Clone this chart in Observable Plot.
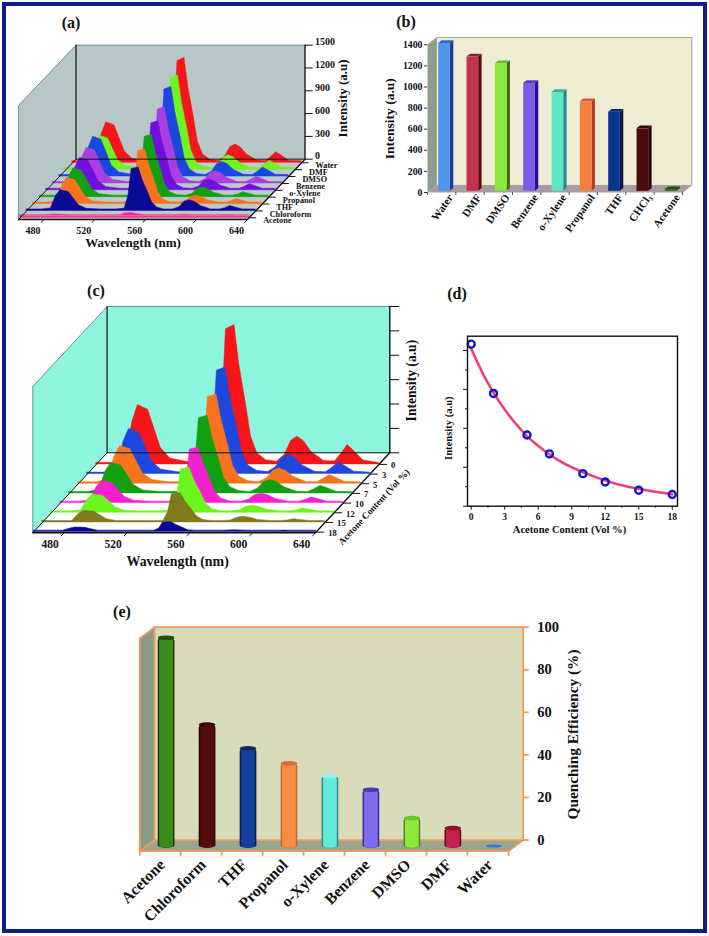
<!DOCTYPE html>
<html><head><meta charset="utf-8">
<script src="https://cdn.jsdelivr.net/npm/d3@7"></script>
<script src="https://cdn.jsdelivr.net/npm/@observablehq/plot@0.6"></script>
<style>
html,body{margin:0;padding:0;background:#fff}
#page{position:relative;width:709px;height:936px;overflow:hidden;font-family:"Liberation Serif",serif}
#border{position:absolute;left:2px;top:2px;width:697px;height:923px;border:4px solid #0f1c85}
.tag{position:absolute;font:bold 16px "Liberation Serif",serif;transform:translate(-50%,-50%);color:#111}
</style></head><body><div id="page"><div id="border"></div></div>
<script>
const FONT='"Liberation Serif",serif';
// wavelengths shared by the spectra of panels (a) and (c)
const wavelengths=[460,472,479,483,486.5,493,497,501,507,518,530,537,540,542.5,548,551,555.5,558.5,562.5,568,575,580,584,588,592,597,605,612,616,620,624,630,640];

// (a) solvents, back row first
const solventsA=["Water","DMF","DMSO","Benzene","o-Xylene","Propanol","THF","Chloroform","Acetone"];
const colorsA=["#f5151a","#6cf51e","#1a47e0","#a93fe0","#6f10dc","#12a012","#f7741c","#0a0a96","#f41fc0"];
const aWater=[20,20,64,385,535,492,321,150,54,21,28,69,483,1339,1380,994,580,276,110,41,24,84,205,241,205,108,29,21,77,140,98,28,20];
const aDMF=[20,20,54,322,447,411,268,125,45,20,25,62,434,1203,1240,893,521,248,99,37,20,66,161,189,161,85,23,20,65,118,83,24,20];
const aDMSO=[20,20,63,379,526,484,316,147,53,21,24,59,413,1145,1180,850,496,236,94,35,20,68,164,193,164,87,23,20,65,118,83,24,20];
const aBenzene=[20,20,56,338,470,432,282,132,47,20,20,50,351,974,1004,723,422,201,80,30,20,57,138,162,138,73,20,20,48,88,62,20,20];
const aXylene=[20,20,51,306,425,391,255,119,43,20,20,45,318,881,908,654,381,182,73,27,20,49,119,140,119,63,20,20,46,83,58,20,20];
const aPropanol=[20,20,46,274,380,350,228,106,38,20,20,41,287,795,820,590,344,164,66,25,20,44,108,127,108,57,20,20,36,66,46,20,20];
const aTHF=[20,20,41,248,345,317,207,97,35,20,20,36,252,697,719,518,302,144,58,22,20,39,94,110,94,50,20,20,36,66,46,20,20];
const aChloroform=[20,20,33,196,272,250,163,76,27,20,20,29,200,553,570,410,239,114,46,20,20,49,119,140,119,63,20,20,36,66,46,20,20];
const aAcetone=[34,34,34,38,42,40,36,34,34,34,34,34,40,60,62,50,40,34,34,34,34,34,38,40,38,34,34,34,34,36,35,34,34];
const seriesA=[aWater,aDMF,aDMSO,aBenzene,aXylene,aPropanol,aTHF,aChloroform,aAcetone];
const ticksWave=[480,520,560,600,640];
const ticksIntensityA=[0,300,600,900,1200,1500];

// (b)
const solventsB=["Water","DMF","DMSO","Benzene","o-Xylene","Propanol","THF","CHCl₃","Acetone"];
const valuesB=[1416,1289,1226,1039,953,864,766,608,32];
const faceB=["#4f95ea","#c4304f","#8be83c","#7c5ce8","#5ee6c8","#f5803e","#0c358f","#4a0b0b","#2f6b10"];
const sideB=["#1d3f95","#5c0a12","#3f6e10","#2a1095","#2a8a92","#a8401f","#061745","#260505","#163a05"];
const topB=["#2f6fc8","#8a1c30","#68b828","#5a3cc0","#3fb0a8","#d0602a","#092a70","#360808","#1f5008"];
const ticksB=[0,200,400,600,800,1000,1200,1400];

// (c)
const contentC=["0","3","5","7","10","12","15","18"];
const colorsC=["#f5151a","#1d48e0","#f7741c","#12a012","#f51fd0","#6cf51e","#7f7a1e","#0a0a96"];
const c0=[15,18,73,438,608,559,365,170,61,24,29,71,500,1385,1428,1028,600,286,114,43,28,99,241,284,241,128,34,30,109,198,139,40,15];
const c3=[15,15,55,332,461,424,277,129,46,18,22,55,383,1060,1093,787,459,219,87,33,20,69,168,198,168,89,24,18,66,120,84,24,15];
const c5=[15,15,46,278,386,355,232,108,39,15,18,46,321,889,916,660,385,183,73,27,16,55,133,157,133,71,19,15,49,89,62,18,15];
const c7=[15,15,37,224,311,286,187,87,31,15,16,40,279,772,796,573,334,159,64,24,15,48,116,137,116,62,16,15,43,79,55,16,15];
const c10=[15,15,27,162,225,207,135,63,23,15,15,28,198,550,567,408,238,113,45,17,15,34,82,96,82,43,15,15,32,58,41,15,15];
const c12=[15,15,23,135,188,173,113,53,19,15,15,23,161,447,461,332,194,92,37,15,15,25,61,72,61,32,15,15,24,44,31,15,15];
const c15=[15,15,15,86,120,110,72,34,15,15,15,15,105,291,300,216,126,60,24,15,15,20,49,58,49,26,15,15,19,34,24,15,15];
const c18=[15,15,15,35,48,44,29,15,15,15,15,15,36,99,102,73,43,20,15,15,15,15,17,20,17,15,15,15,15,16,15,15,15];
const seriesC=[c0,c3,c5,c7,c10,c12,c15,c18];
const ticksIntensityC=[0,250,500,750,1000,1250,1500];

// (d)
const acetoneX=[0,2,5,7,10,12,15,18];
const acetoneY=[1249,869,549,403,251,187,123,90];
const fitX=[0,1,2,3,4,5,6,7,8,9,10,12,14,16,18];
const fitY=[1215,1030,875,745,635,540,465,400,345,300,262,198,150,118,92];
const ticksDX=[0,3,6,9,12,15,18];
const minorDX=[1.5,4.5,7.5,10.5,13.5,16.5];
const ticksDY=[0,300,600,900,1200];
const minorDY=[150,450,750,1050];

// (e)
const solventsE=["Acetone","Chloroform","THF","Propanol","o-Xylene","Benzene","DMSO","DMF","Water"];
const valuesE=[98,57.2,46,39,33,26.6,13.3,8.6,0.3];
const midE=["#3d8a1c","#540c0c","#12409c","#f78c44","#64ead8","#7f6cec","#8fe83c","#c4204e","#3a78d8"];
const edgeE=["#153c05","#260404","#0a1f52","#c46a30","#2e8a92","#3a2aa0","#4a8a20","#600a20","#1c4aa0"];
const capE=["#1f4f0a","#380606","#0c2a6a","#d8702c","#9af0e8","#4a38b8","#6cc02c","#8a1030","#2a5ab8"];
const ticksE=[0,20,40,60,80,100];

const page=document.getElementById("page");
function panel({left,top,right,bottom,frame:[fl,ft,fr,fb],x,y,marks}){
  const svg=Plot.plot({width:right-left,height:bottom-top,marginLeft:fl-left,marginTop:ft-top,marginRight:right-fr,marginBottom:bottom-fb,
    x:{...x,axis:null},y:{...y,axis:null},marks,
    style:{position:"absolute",left:left+"px",top:top+"px",fontFamily:FONT,fontWeight:"bold",background:"transparent",overflow:"visible",color:"#111"}});
  page.appendChild(svg);
}
const poly=(pts,fill,stroke="none",strokeWidth=1)=>Plot.line(pts,{x:p=>p[0],y:p=>p[1],fill,stroke,strokeWidth,curve:"linear-closed"});
const edge=(pts,stroke,strokeWidth=1)=>Plot.line(pts,{x:p=>p[0],y:p=>p[1],stroke,strokeWidth});
function tag(text,x,y){const s=document.createElement("div");s.className="tag";s.textContent=text;s.style.left=x+"px";s.style.top=y+"px";page.appendChild(s);}

function ridge(series,colors,depths,px,py){
  return series.map((arr,i)=>{
    const rows=wavelengths.map((nm,j)=>({nm,v:arr[j]}));
    const d=depths[i];
    return Plot.area(rows,{x1:r=>px(r.nm,d),y1:r=>py(0,d),y2:r=>py(r.v,d),fill:colors[i],stroke:colors[i],strokeWidth:.5,curve:"linear"});
  });
}

/* ---------- (a) ---------- */
{
  const W=8.78, nmLo=460, nmHi=640, top=1500;
  const px=(nm,d)=>nm+d*5.15, py=(v,d)=>v+d*90.4;
  const depths=solventsA.map((_,i)=>8.25-i);
  const wall="#b7c6c6";
  panel({left:6,top:30,right:360,bottom:262,frame:[18,105,247,219],
    x:{domain:[nmLo,nmHi]},y:{domain:[0,top]},
    marks:[
      poly([[px(nmLo,W),py(0,W)],[px(nmHi,W),py(0,W)],[px(nmHi,W),py(top,W)],[px(nmLo,W),py(top,W)]],wall),
      poly([[px(nmLo,0),py(0,0)],[px(nmLo,W),py(0,W)],[px(nmLo,W),py(top,W)],[px(nmLo,0),py(top,0)]],wall),
      poly([[px(nmLo,0),py(0,0)],[px(nmHi,0),py(0,0)],[px(nmHi,W),py(0,W)],[px(nmLo,W),py(0,W)]],"#bccaca"),
      ...ridge(seriesA,colorsA,depths,px,py),
      edge([[px(nmLo,0.55),py(0,0.55)],[px(nmHi,0.55),py(0,0.55)]],"#f58a2a",1),
      edge([[px(nmLo,0),py(top,0)],[px(nmLo,W),py(top,W)],[px(nmHi,W),py(top,W)]],"#6f8a8a",1),
      edge([[px(nmLo,0),py(0,0)],[px(nmLo,0),py(top,0)]],"#7f9a9a",1),
      edge([[px(nmLo,W),py(top,W)],[px(nmLo,W),py(0,W)]],"#111",1.2),
      edge([[px(nmLo,0),py(0,0)],[px(nmLo,W),py(0,W)],[px(nmHi,W),py(0,W)]],"#111",1),
      edge([[px(nmLo,0),py(0,0)],[px(nmHi,0),py(0,0)],[px(nmHi,W),py(0,W)],[px(nmHi,W),py(top,W)]],"#111",1.3),
      Plot.link(ticksWave,{x1:d=>d,y1:0,x2:d=>d-2.4,y2:-40,stroke:"#111",strokeWidth:1}),
      Plot.axisX({ticks:ticksWave,tickSize:0,tickPadding:7,label:null,dx:-11,fontSize:10,textAnchor:"middle"}),
      Plot.link(ticksIntensityA,{x1:()=>px(nmHi,W),y1:d=>py(d,W),x2:()=>px(nmHi,W)+6,y2:d=>py(d,W),stroke:"#111",strokeWidth:1}),
      Plot.text(ticksIntensityA,{x:()=>px(nmHi,W),y:d=>py(d,W),dx:10,dy:-3,textAnchor:"start",fontSize:10,fill:"#111",fontWeight:"bold",text:d=>String(d)}),
      Plot.text(["Intensity (a.u)"],{x:()=>px(nmHi,W),y:()=>py(800,W),dx:38,rotate:-90,fontSize:13,fill:"#111",fontWeight:"bold"}),
      Plot.link(depths,{x1:d=>px(nmHi,d),y1:d=>py(0,d),x2:d=>px(nmHi,d)+5.5,y2:d=>py(0,d),stroke:"#111",strokeWidth:1}),
      Plot.text(solventsA,{x:(d,i)=>px(nmHi,depths[i]),y:(d,i)=>py(0,depths[i]),dx:14,dy:3,textAnchor:"start",fontSize:8.2,fill:"#111",fontWeight:"bold"}),
      Plot.text(["Wavelength (nm)"],{frameAnchor:"bottom",dy:27,fontSize:13,fill:"#111",fontWeight:"bold"})
    ]});
  tag("(a)",71,23);
}

/* ---------- (b) ---------- */
{
  const W=.33, V=70, n=9, top=1400;
  const bars=solventsB.flatMap((_,i)=>{
    const x0=i+.378,x1=i+.79,v=valuesB[i],b=16,dx=.12,dv=26;
    return [
      poly([[x0,v],[x1,v],[x1+dx,v+dv],[x0+dx,v+dv]],topB[i]),
      poly([[x1,b],[x1+dx,b+dv],[x1+dx,v+dv],[x1,v]],sideB[i]),
      poly([[x0,b],[x1,b],[x1,v],[x0,v]],faceB[i])
    ];
  });
  panel({left:375,top:25,right:705,bottom:250,frame:[427,44.3,682,192],
    x:{domain:[0,n]},y:{domain:[0,top]},
    marks:[
      poly([[W,V],[n+W,V],[n+W,top+V],[W,top+V]],"#eeecd2"),
      poly([[0,0],[W,V],[W,top+V],[0,top]],"#8f9c90"),
      poly([[0,0],[n,0],[n+W,V],[W,V]],"#a99ba2"),
      edge([[0,top],[W,top+V],[n+W,top+V],[n+W,V],[n,0]],"#9aa59a",1),
      ...bars,
      Plot.axisY({ticks:ticksB,anchor:"left",tickSize:3,tickPadding:2,label:null,fontSize:9.8,stroke:"#333",tickFormat:d=>String(d)}),
      Plot.axisX({ticks:d3.range(0,10),tickSize:3,tickFormat:()=>"",label:null,stroke:"#555"}),
      Plot.axisX({ticks:solventsB.map((_,i)=>i+.5),tickFormat:d=>solventsB[d-.5],tickSize:0,tickPadding:3,tickRotate:-55,dx:9,label:null,fontSize:11}),
      Plot.text(["Intensity (a.u)"],{frameAnchor:"left",textAnchor:"middle",dx:-38,rotate:-90,fontSize:13.5,fill:"#111",fontWeight:"bold"})
    ]});
  tag("(b)",406,22);
}

/* ---------- (c) ---------- */
{
  const W=8.27, nmLo=460, nmHi=640, top=1500;
  const px=(nm,d)=>nm+d*5.72, py=(v,d)=>v+d*99.2;
  const depths=contentC.map((_,i)=>7.07-i);
  const wall="#8ff5df";
  panel({left:8,top:295,right:430,bottom:585,frame:[32.3,386,315,532.3],
    x:{domain:[nmLo,nmHi]},y:{domain:[0,top]},
    marks:[
      poly([[px(nmLo,W),py(0,W)],[px(nmHi,W),py(0,W)],[px(nmHi,W),py(top,W)],[px(nmLo,W),py(top,W)]],wall),
      poly([[px(nmLo,0),py(0,0)],[px(nmLo,W),py(0,W)],[px(nmLo,W),py(top,W)],[px(nmLo,0),py(top,0)]],wall),
      ...ridge(seriesC,colorsC,depths,px,py),
      edge([[px(nmLo,0),py(top,0)],[px(nmLo,W),py(top,W)],[px(nmHi,W),py(top,W)]],"#5f9a9a",1),
      edge([[px(nmLo,0),py(0,0)],[px(nmLo,0),py(top,0)]],"#5f9a9a",1),
      edge([[px(nmLo,W),py(top,W)],[px(nmLo,W),py(0,W)]],"#111",1.2),
      edge([[px(nmLo,0),py(0,0)],[px(nmLo,W),py(0,W)],[px(nmHi,W),py(0,W)]],"#111",1),
      edge([[px(nmLo,0),py(0,0)],[px(nmHi,0),py(0,0)],[px(nmHi,W),py(0,W)],[px(nmHi,W),py(top,W)]],"#111",1.4),
      Plot.link(ticksWave,{x1:d=>d,y1:0,x2:d=>d-2,y2:-32,stroke:"#111",strokeWidth:1}),
      Plot.axisX({ticks:ticksWave,tickSize:0,tickPadding:7,label:null,dx:-14,fontSize:11.5,textAnchor:"middle"}),
      Plot.link(ticksIntensityC,{x1:()=>px(nmHi,W),y1:d=>py(d,W),x2:()=>px(nmHi,W)+6,y2:d=>py(d,W),stroke:"#111",strokeWidth:1}),
      Plot.text(["Intensity (a.u)"],{x:()=>px(nmHi,W),y:()=>py(740,W),dx:22,rotate:-90,fontSize:13.6,fill:"#111",fontWeight:"bold"}),
      Plot.link(depths,{x1:d=>px(nmHi,d),y1:d=>py(0,d),x2:d=>px(nmHi,d)+5.1,y2:d=>py(0,d),stroke:"#111",strokeWidth:1}),
      Plot.text(contentC,{x:(d,i)=>px(nmHi,depths[i]),y:(d,i)=>py(0,depths[i]),dx:12,dy:1,textAnchor:"start",fontSize:8.6,fill:"#111",fontWeight:"bold"}),
      Plot.text(["Acetone Content (Vol %)"],{x:()=>px(nmHi,3.5),y:()=>py(0,3.5),dx:27,dy:8,rotate:-47,fontSize:9.3,fill:"#111",fontWeight:"bold"}),
      Plot.text(["Wavelength (nm)"],{frameAnchor:"bottom",dx:3.5,dy:33,fontSize:13.9,fill:"#111",fontWeight:"bold"})
    ]});
  tag("(c)",96,291);
}

/* ---------- (d) ---------- */
{
  const pts=acetoneX.map((x,i)=>({x,y:acetoneY[i]}));
  const fit=fitX.map((x,i)=>({x,y:fitY[i]}));
  panel({left:430,top:320,right:695,bottom:545,frame:[467,335.7,677,505.7],
    x:{domain:[-.33,18.47]},y:{domain:[0,1310]},
    marks:[
      Plot.line(fit,{x:"x",y:"y",stroke:"#f08a40",strokeWidth:2.8,curve:"natural"}),
      Plot.line(fit,{x:"x",y:"y",stroke:"#f22e9e",strokeWidth:1.8,curve:"natural"}),
      Plot.dot(pts,{x:"x",y:"y",r:3.5,stroke:"#1414c8",strokeWidth:2.4,fill:"none"}),
      Plot.frame({stroke:"#111",strokeWidth:1.4}),
      Plot.axisX({ticks:ticksDX,tickSize:4,tickPadding:3,label:null,fontSize:9.5}),
      Plot.axisX({ticks:minorDX,tickSize:2,tickFormat:()=>"",label:null}),
      Plot.axisY({ticks:ticksDY,tickSize:4,tickFormat:()=>"",label:null}),
      Plot.axisY({ticks:minorDY,tickSize:2,tickFormat:()=>"",label:null}),
      Plot.text(["Intensity (a.u)"],{frameAnchor:"left",textAnchor:"middle",dx:-19,dy:7,rotate:-90,fontSize:10.6,fill:"#111",fontWeight:"bold"}),
      Plot.text(["Acetone Content (Vol %)"],{frameAnchor:"bottom",dy:27,dx:-3,fontSize:10.6,fill:"#111",fontWeight:"bold"})
    ]});
  tag("(d)",457,294);
}

/* ---------- (e) ---------- */
{
  const n=9, Wx=.36, Vy=5.25, top=100, OR="#f59a55";
  const b=-3.2;
  const cyl=solventsE.flatMap((_,i)=>{
    const c=i+.654, v=valuesE[i]+b, hw=.204;
    const rect=(k,fill)=>Plot.rect([0],{x1:()=>c-hw*k,x2:()=>c+hw*k,y1:()=>b-.7,y2:()=>v,fill,rx:8*k,ry:2.5});
    if(i===8) return [Plot.rect([0],{x1:()=>c-hw,x2:()=>c+hw,y1:()=>b-.6,y2:()=>b+.9,fill:midE[i],rx:8,ry:2})];
    return [
      rect(1,edgeE[i]),rect(.82,midE[i]),
      Plot.rect([0],{x1:()=>c-hw,x2:()=>c+hw,y1:()=>v-1.1,y2:()=>v+1.1,fill:capE[i],rx:8,ry:2.4})
    ];
  });
  panel({left:85,top:615,right:625,bottom:925,frame:[139.3,626.7,522.7,850.7],
    x:{domain:[0,n+Wx]},y:{domain:[-Vy,top]},
    marks:[
      poly([[Wx,0],[n+Wx,0],[n+Wx,top],[Wx,top]],"#d9dcba"),
      poly([[0,-Vy],[Wx,0],[Wx,top],[0,top-Vy]],"#8a9a86"),
      poly([[0,-Vy],[n,-Vy],[n+Wx,0],[Wx,0]],"#9aa692"),
      edge([[0,top-Vy],[Wx,top],[n+Wx,top],[n+Wx,0],[n,-Vy],[0,-Vy],[0,top-Vy]],OR,1.8),
      edge([[0,-Vy],[Wx,0],[n+Wx,0]],OR,1.8),
      edge([[Wx,0],[Wx,top]],OR,1.8),
      ...cyl,
      Plot.axisY({ticks:ticksE,anchor:"right",tickSize:5,tickPadding:9,label:null,fontSize:14.5,stroke:OR,strokeWidth:1.8,fill:"#111"}),
      Plot.axisX({ticks:d3.range(0,10),tickSize:5,tickFormat:()=>"",label:null,stroke:OR,strokeWidth:1.8}),
      Plot.axisX({ticks:solventsE.map((_,i)=>i+.5),tickFormat:d=>solventsE[d-.5],tickSize:0,tickPadding:11,tickRotate:-45,dx:2,label:null,fontSize:15.8}),
      Plot.text(["Quenching Efficiency (%)"],{frameAnchor:"right",textAnchor:"middle",dy:-4.7,dx:50,rotate:-90,fontSize:15.3,fill:"#111",fontWeight:"bold"})
    ]});
  tag("(e)",122,612);
}
</script></body></html>
